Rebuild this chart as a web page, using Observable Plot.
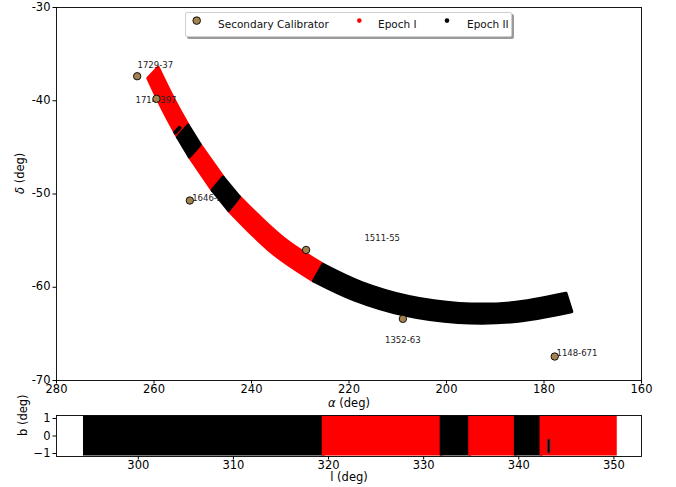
<!DOCTYPE html>
<html><head><meta charset="utf-8">
<script src="https://cdn.jsdelivr.net/npm/d3@7"></script>
<script src="https://cdn.jsdelivr.net/npm/@observablehq/plot@0.6"></script>
<style>
body{margin:0;background:#fff;}
#wrap{position:relative;width:676px;height:487px;font-family:"DejaVu Sans",sans-serif;overflow:hidden;background:#fff;}
#topPanel,#botPanel{position:absolute;left:0;}
#topPanel{top:0px}
#botPanel{top:410px}
#legend{position:absolute;left:185px;top:11.5px;width:327px;height:25px;box-sizing:border-box;border:1px solid #cfcfcf;border-radius:2px;background:#fff;box-shadow:2px 2px 0 #9a9a9a;}
#legend svg{position:absolute;left:-1px;top:-1px;overflow:visible;}
</style></head>
<body><div id="wrap"><div id="topPanel"></div><div id="botPanel"></div><div id="legend"></div></div>
<script>
// Galactic-plane strip sampled along longitude l (deg); edges at b=+1 and b=-1 in equatorial coords
const bandL    = [294.5, 300, 305, 310, 315, 319.6, 325, 332, 335, 339.8, 342.5, 346, 350.3];
const raPlus   = [175.41, 186.66, 197.24, 207.59, 217.24, 225.24, 233.47, 242.42, 245.73, 250.48, 252.90, 255.80, 259.07];
const decPlus  = [-60.73, -61.75, -61.81, -61.07, -59.58, -57.62, -54.76, -50.35, -48.26, -44.75, -42.70, -39.96, -36.50];
const raMinus  = [174.25, 186.23, 197.55, 208.58, 218.77, 227.11, 235.57, 244.60, 247.92, 252.65, 255.04, 257.91, 261.12];
const decMinus = [-62.65, -63.73, -63.80, -63.01, -61.41, -59.38, -56.37, -51.79, -49.65, -46.04, -43.95, -41.16, -37.64];

// Epoch coverage segments in galactic longitude
const segStart = [294.5, 319.6, 332.0, 335.0, 339.8, 342.5];
const segEnd   = [319.6, 332.0, 335.0, 339.8, 342.5, 350.3];
const segEpoch = ["Epoch II", "Epoch I", "Epoch II", "Epoch I", "Epoch II", "Epoch I"];
const segBLow  = [-1, -1, -1, -1, -1, -1];
const segBHigh = [1, 1, 1, 1, 1, 1];

// Extra short Epoch II column
const stripL = [343.2];
const stripBLow = [-1];
const stripBHigh = [-0.2];
const stripRA1 = [255.63], stripDec1 = [-43.40], stripRA2 = [254.77], stripDec2 = [-42.90];

// Secondary calibrators
const calNames = ["1729-37", "1714-397", "1646-50", "1511-55", "1352-63", "1148-671"];
const calRA    = [263.45, 259.5, 252.65, 228.8, 208.95, 177.8];
const calDec   = [-37.37, -39.79, -50.70, -56.0, -63.39, -67.43];
const labRA    = [263.38, 259.59, 252.17, 213.19, 208.97, 177.44];
const labDec   = [-36.22, -39.97, -50.45, -54.80, -65.71, -67.07];
const labAnchor= ["start", "middle", "start", "middle", "middle", "start"];

const raTicks = [280, 260, 240, 220, 200, 180, 160];
const decTicks = [-70, -60, -50, -40, -30];
const lTicks = [300, 310, 320, 330, 340, 350];
const bTicks = [-1, 0, 1];

const epochColor = {"Epoch I": "#ff0000", "Epoch II": "#000000"};
const calColor = "#a2824e";

const band = bandL.map((l, i) => ({l, raP: raPlus[i], decP: decPlus[i], raM: raMinus[i], decM: decMinus[i]}));
const segs = segStart.map((s, i) => ({start: s, end: segEnd[i], epoch: segEpoch[i], b1: segBLow[i], b2: segBHigh[i]}));
const strip = stripL.map((l, i) => ({l, b1: stripBLow[i], b2: stripBHigh[i], x1: stripRA1[i], y1: stripDec1[i], x2: stripRA2[i], y2: stripDec2[i]}));
const cals = calNames.map((n, i) => ({name: n, ra: calRA[i], dec: calDec[i], lra: labRA[i], ldec: labDec[i], anchor: labAnchor[i]}));

function segArea(seg) {
  const rows = band.filter(d => d.l >= seg.start - 1e-6 && d.l <= seg.end + 1e-6);
  const c = epochColor[seg.epoch];
  return Plot.area(rows, {x1: "raM", y1: "decM", x2: "raP", y2: "decP", fill: c, stroke: c, strokeWidth: 3.5, strokeLinejoin: "round", curve: "catmull-rom"});
}

const hyph = d => String(d);
const minus = d => d < 0 ? "\u2212" + Math.abs(d) : String(d);

const topPlot = Plot.plot({
  width: 676, height: 410,
  marginLeft: 56, marginRight: 35, marginTop: 7, marginBottom: 30,
  style: {fontFamily: "DejaVu Sans", fontSize: "11.5px", background: "transparent", color: "#000", overflow: "visible"},
  x: {domain: [280, 160], ticks: raTicks, tickFormat: hyph, tickSize: 3.5, tickPadding: 0.5, label: null},
  y: {domain: [-70, -30], ticks: decTicks, tickFormat: hyph, tickSize: 3.5, tickPadding: 2.5, label: null},
  marks: [
    ...segs.filter(s => s.epoch === "Epoch I").map(segArea),
    ...["start", "middle"].map(a => Plot.text(cals.filter(c => c.anchor === a), {x: "lra", y: "ldec", text: "name", textAnchor: a, fontSize: 8.5, fill: "#222"})),
    ...segs.filter(s => s.epoch === "Epoch II").map(segArea),
    Plot.link(strip, {x1: "x1", y1: "y1", x2: "x2", y2: "y2", stroke: "#000", strokeWidth: 4, strokeLinecap: "round"}),
    Plot.dot(cals, {x: "ra", y: "dec", r: 3.7, fill: calColor, stroke: "#000", strokeWidth: 0.9}),
    Plot.text(["α (deg)"], {text: d => d, frameAnchor: "bottom", dy: 26.5, fontSize: 11.5}),
    Plot.text(["δ (deg)"], {text: d => d, frameAnchor: "left", dx: -36, rotate: -90, fontSize: 11.5}),
    Plot.frame({stroke: "#000", strokeWidth: 0.9})
  ]
});

const botPlot = Plot.plot({
  width: 676, height: 77,
  marginLeft: 56, marginRight: 35, marginTop: 5, marginBottom: 31,
  style: {fontFamily: "DejaVu Sans", fontSize: "11.5px", background: "transparent", color: "#000", overflow: "visible"},
  x: {domain: [291.4, 352.9], ticks: lTicks, tickFormat: hyph, tickSize: 3.5, tickPadding: 0.5, label: null},
  y: {domain: [-1.17, 1.17], ticks: bTicks, tickFormat: minus, tickSize: 3.5, tickPadding: 2.5, label: null},
  marks: [
    Plot.rect(segs, {x1: "start", x2: "end", y1: "b1", y2: "b2", fill: d => epochColor[d.epoch], insetLeft: -2.5, insetRight: -0.5, insetTop: -2.5, insetBottom: -2.5, clip: true}),
    Plot.rect(strip, {x1: d => d.l - 0.12, x2: d => d.l + 0.12, y1: "b1", y2: "b2", fill: "#000", stroke: "#333", strokeWidth: 1, rx: 2}),
    Plot.text(["l (deg)"], {text: d => d, frameAnchor: "bottom", dy: 24.5, fontSize: 11.5}),
    Plot.text(["b (deg)"], {text: d => d, frameAnchor: "left", dx: -33, rotate: -90, fontSize: 11.5}),
    Plot.frame({stroke: "#000", strokeWidth: 0.9})
  ]
});

function italicize(svg, label, sym) {
  d3.select(svg).selectAll("text").each(function() {
    if (this.textContent === label) {
      const t = d3.select(this);
      t.text("");
      t.append("tspan").attr("font-style", "italic").text(sym);
      t.append("tspan").text(label.slice(sym.length));
    }
  });
}
italicize(topPlot, "α (deg)", "α");
italicize(topPlot, "δ (deg)", "δ");

[topPlot, botPlot].forEach(svg => {
  d3.select(svg).selectAll('g[aria-label*="axis"]').attr("font-size", null).style("font-size", "11.5px");
});
// nudge the top panel's y tick labels up slightly so "-70" clears "280"
d3.select(topPlot).selectAll('g[aria-label="y-axis tick label"] text').attr("dy", "-0.05em");

document.getElementById("topPanel").appendChild(topPlot);
document.getElementById("botPanel").appendChild(botPlot);

// Legend
const leg = d3.select("#legend").append("svg").attr("width", 327).attr("height", 25)
  .style("font-family", "DejaVu Sans").style("font-size", "10.5px");
const legItems = [
  {label: "Secondary Calibrator", cx: 11.7, tx: 33, r: 3.8, fill: calColor, stroke: "#000"},
  {label: "Epoch I", cx: 174.3, tx: 193, r: 2.3, fill: epochColor["Epoch I"], stroke: "none"},
  {label: "Epoch II", cx: 262, tx: 282, r: 2.3, fill: epochColor["Epoch II"], stroke: "none"}
];
legItems.forEach(it => {
  leg.append("circle").attr("cx", it.cx).attr("cy", 8.6).attr("r", it.r).attr("fill", it.fill).attr("stroke", it.stroke).attr("stroke-width", 0.9);
  leg.append("text").attr("x", it.tx).attr("y", 15.6).attr("fill", "#111").text(it.label);
});
</script>
</body></html>
